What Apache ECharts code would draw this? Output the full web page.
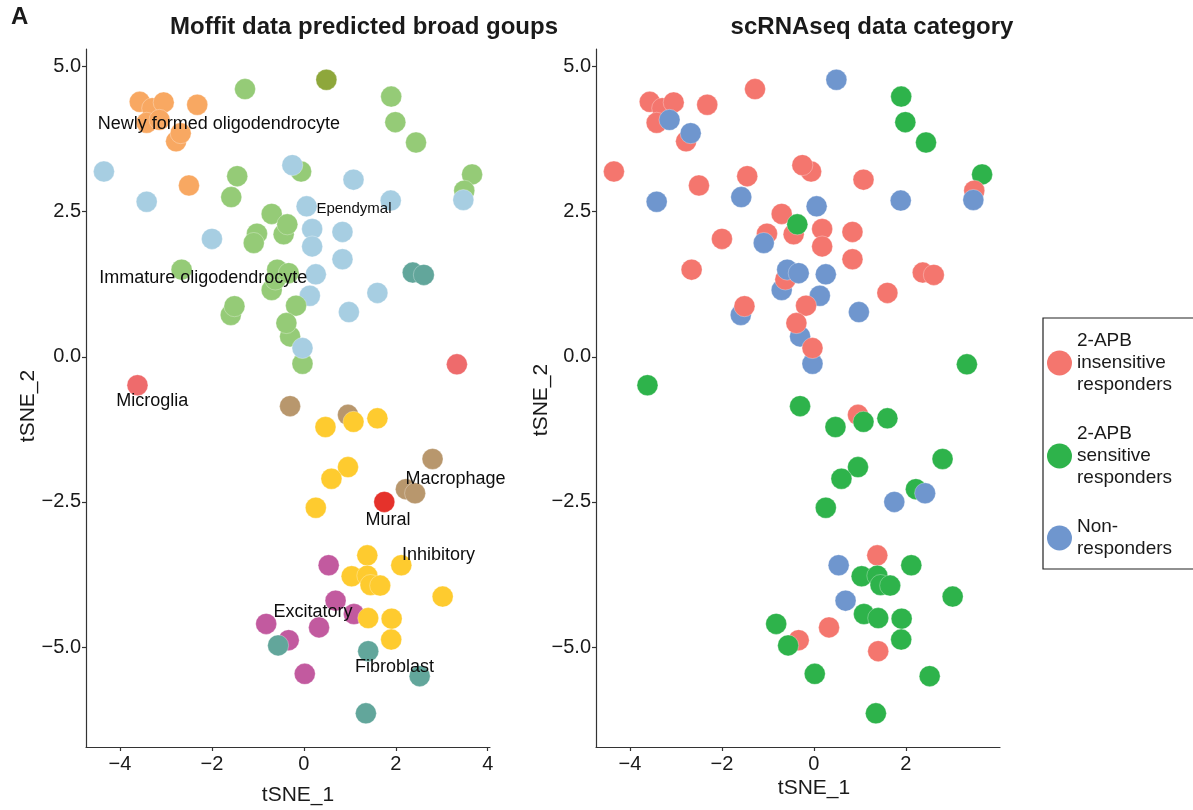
<!DOCTYPE html>
<html>
<head>
<meta charset="utf-8">
<script src="https://cdn.jsdelivr.net/npm/echarts@6/dist/echarts.min.js"></script>
<style>
  html, body { margin: 0; padding: 0; background: #ffffff; }
  #chart { width: 1193px; height: 810px; }
</style>
</head>
<body>
<div id="chart"></div>
<script>
// t-SNE embedding of the cells (one entry per cell, drawing order)
const tsne1 = [
  -3.57, -3.30, -3.05, -3.42, -3.14, -2.78, -2.68, -2.32, -2.50, -1.28,
   0.49,  1.90,  1.99,  2.44, -4.35, -3.42, -1.45, -1.58, -0.06, -0.25,
   1.08,  3.66,  3.49,  3.47,  1.89,  0.06, -0.70, -0.44, -0.36, -1.02,
  -1.09, -2.00,  0.18,  0.18,  0.84,  0.84, -2.66, -0.70, -0.62, -0.58,
  -0.33,  0.26,  0.13,  2.37,  2.61,  1.60,  0.98, -1.59, -1.51, -0.17,
  -0.30, -0.38, -0.03, -0.03,  3.33, -3.62, -0.30,  0.96,  1.08,  0.47,
   1.60,  2.80,  0.96,  0.60,  2.22,  2.42,  1.75,  0.26,  1.38,  0.54,
   2.12,  1.04,  1.38,  1.45,  1.66,  3.02,  0.69,  1.09,  1.40,  1.91,
   1.90, -0.82,  0.33, -0.33, -0.56,  1.40,  0.02,  2.52,  1.35
];
const tsne2 = [
   4.39,  4.28,  4.38,  4.03,  4.08,  3.71,  3.85,  4.34,  2.95,  4.61,
   4.77,  4.48,  4.04,  3.69,  3.19,  2.67,  3.11,  2.75,  3.19,  3.30,
   3.05,  3.14,  2.86,  2.70,  2.69,  2.59,  2.46,  2.11,  2.28,  2.12,
   1.96,  2.03,  2.20,  1.90,  2.15,  1.68,  1.50,  1.15,  1.33,  1.50,
   1.44,  1.42,  1.05,  1.45,  1.41,  1.10,  0.77,  0.72,  0.87,  0.88,
   0.35,  0.58, -0.12,  0.15, -0.13, -0.49, -0.85, -1.00, -1.12, -1.21,
  -1.06, -1.76, -1.90, -2.10, -2.28, -2.35, -2.50, -2.60, -3.42, -3.59,
  -3.59, -3.78, -3.77, -3.93, -3.94, -4.13, -4.20, -4.43, -4.50, -4.51,
  -4.87, -4.60, -4.66, -4.88, -4.97, -5.07, -5.46, -5.50, -6.14
];
// Predicted broad cell group of each cell
const cellGroup = [
  'NFO','NFO','NFO','NFO','NFO','NFO','NFO','NFO','NFO','IO',
  'MOL','IO','IO','IO','EPE','EPE','IO','IO','IO','EPE',
  'EPE','IO','IO','EPE','EPE','EPE','IO','IO','IO','IO',
  'IO','EPE','EPE','EPE','EPE','EPE','IO','IO','IO','IO',
  'IO','EPE','EPE','FIB','FIB','EPE','EPE','IO','IO','IO',
  'IO','IO','IO','EPE','MG','MG','MAC','MAC','INH','INH',
  'INH','MAC','INH','INH','MAC','MAC','MUR','INH','INH','EXC',
  'INH','INH','INH','INH','INH','INH','EXC','EXC','INH','INH',
  'INH','EXC','EXC','EXC','FIB','FIB','EXC','FIB','FIB'
];
// 2-APB response class of each cell
const response = [
  'ins','ins','ins','ins','non','ins','non','ins','ins','ins',
  'non','sen','sen','sen','ins','non','ins','non','ins','ins',
  'ins','sen','ins','non','non','non','ins','ins','sen','ins',
  'non','ins','ins','ins','ins','ins','ins','non','ins','non',
  'non','non','non','ins','ins','ins','non','non','ins','ins',
  'non','ins','non','ins','sen','sen','sen','ins','sen','sen',
  'sen','sen','sen','sen','sen','non','non','sen','ins','non',
  'sen','sen','sen','sen','sen','sen','non','sen','sen','sen',
  'sen','sen','ins','ins','sen','ins','sen','sen','sen'
];

// Cluster annotations placed in embedding space
const labelText = ['Newly formed oligodendrocyte', 'Ependymal', 'Immature oligodendrocyte',
  'Microglia', 'Macrophage', 'Mural', 'Inhibitory', 'Excitatory', 'Fibroblast'];
const labelX = [-1.85, 1.09, -2.19, -3.30, 3.30, 1.83, 2.93, 0.20, 1.97];
const labelY = [4.00, 2.55, 1.36, -0.76, -2.10, -2.81, -3.41, -4.39, -5.34];

// Response classes shown in the legend
const responseKeys = ['ins', 'sen', 'non'];
const responseNames = ['2-APB\ninsensitive\nresponders', '2-APB\nsensitive\nresponders', 'Non-\nresponders'];

// Axis ticks
const xTicksLeft = [-4, -2, 0, 2, 4];
const xTicksRight = [-4, -2, 0, 2];
const yTicks = [-5, -2.5, 0, 2.5, 5];

const cellColors = {
  NFO: '#f8a862', MOL: '#8ea73b', IO: '#95cb77', EPE: '#a7cee2', MG: '#ee6b6c',
  MAC: '#b8976d', MUR: '#e5322b', INH: '#fecb2f', EXC: '#c25a9f', FIB: '#62a69b'
};
const responseColors = { ins: '#f4766e', sen: '#2eb34b', non: '#6f96ce' };

const FONT = "'Liberation Sans', Arial, Helvetica, sans-serif";
const INK = '#1a1a1a';
const AXIS = '#333333';
const X_MIN = -4.74, X_MAX = 4.05, Y_MIN = -6.72, Y_MAX = 5.30;
const POINT_SIZE = 21;

const minus = s => String(s).replace('-', '\u2212');

function xAxisFor(gridIndex, ticks) {
  return {
    type: 'value', gridIndex, min: X_MIN, max: X_MAX,
    axisLine: { onZero: false, lineStyle: { color: AXIS, width: 1.2 } },
    axisTick: { show: true, length: 4, customValues: ticks, lineStyle: { color: AXIS, width: 1.2 } },
    axisLabel: { customValues: ticks, margin: 7, fontSize: 20, color: INK, fontFamily: FONT,
                 formatter: v => minus(v) },
    splitLine: { show: false }
  };
}
function yAxisFor(gridIndex) {
  return {
    type: 'value', gridIndex, min: Y_MIN, max: Y_MAX,
    axisLine: { show: true, onZero: false, lineStyle: { color: AXIS, width: 1.2 } },
    axisTick: { show: true, length: 4, customValues: yTicks, lineStyle: { color: AXIS, width: 1.2 } },
    axisLabel: { customValues: yTicks, margin: 5, fontSize: 20, color: INK, fontFamily: FONT,
                 formatter: v => minus(Number(v).toFixed(1)) },
    splitLine: { show: false }
  };
}

const pointStyle = { opacity: 1, borderColor: 'rgba(255,255,255,0.6)', borderWidth: 0.5 };

const cellData = tsne1.map((x, i) => ({
  value: [x, tsne2[i]],
  itemStyle: Object.assign({ color: cellColors[cellGroup[i]] }, pointStyle)
}));
const responseData = tsne1.map((x, i) => ({
  value: [x, tsne2[i]],
  itemStyle: Object.assign({ color: responseColors[response[i]] }, pointStyle)
}));
const labelData = labelText.map((t, i) => ({
  value: [labelX[i], labelY[i]],
  name: t,
  label: { fontSize: t === 'Ependymal' ? 15 : 18 }
}));

function text(x, y, str, size, opts) {
  return Object.assign({
    type: 'text', x, y, silent: true,
    style: Object.assign({
      text: str, fontSize: size, fontFamily: FONT, fill: INK,
      align: 'center', verticalAlign: 'middle',
      textAlign: 'center', textVerticalAlign: 'middle'
    }, (opts && opts.style) || {})
  }, opts && opts.rotation !== undefined ? { rotation: opts.rotation } : {});
}

const chart = echarts.init(document.getElementById('chart'), null, { renderer: 'canvas' });

chart.setOption({
  backgroundColor: '#ffffff',
  animation: false,
  grid: [
    { left: 86, top: 49, width: 404, height: 698 },
    { left: 596, top: 49, width: 404, height: 698 }
  ],
  xAxis: [xAxisFor(0, xTicksLeft), xAxisFor(1, xTicksRight)],
  yAxis: [yAxisFor(0), yAxisFor(1)],
  legend: {
    orient: 'vertical', left: 1043, top: 318,
    padding: [12, 40, 9, 4], itemGap: 27, itemWidth: 25, itemHeight: 25,
    icon: 'circle', borderColor: '#222222', borderWidth: 1.2,
    selectedMode: false,
    itemStyle: { opacity: 1 },
    textStyle: { fontSize: 19, lineHeight: 22, color: INK, fontFamily: FONT },
    data: responseNames
  },
  series: [
    {
      type: 'scatter', xAxisIndex: 0, yAxisIndex: 0, symbolSize: POINT_SIZE,
      itemStyle: { opacity: 1 }, data: cellData, z: 2
    },
    {
      type: 'scatter', xAxisIndex: 0, yAxisIndex: 0, symbolSize: 0, z: 5,
      data: labelData,
      itemStyle: { opacity: 1 },
      label: { show: true, position: 'inside', formatter: p => p.name, opacity: 1,
               color: '#0d0d0d', fontFamily: FONT, fontSize: 18 },
      emphasis: { disabled: true }
    },
    {
      type: 'scatter', xAxisIndex: 1, yAxisIndex: 1, symbolSize: POINT_SIZE,
      itemStyle: { opacity: 1 }, data: responseData, z: 2
    }
  ].concat(responseKeys.map((k, i) => ({
    // legend entries for the response classes
    name: responseNames[i], type: 'scatter', xAxisIndex: 1, yAxisIndex: 1,
    itemStyle: { color: responseColors[k], opacity: 1 }, data: []
  }))),
  graphic: [
    text(11, 17, 'A', 24, { style: { fontWeight: 'bold', align: 'left', textAlign: 'left' } }),
    text(364, 27, 'Moffit data predicted broad goups', 24, { style: { fontWeight: 'bold' } }),
    text(872, 27, 'scRNAseq data category', 24, { style: { fontWeight: 'bold' } }),
    text(298, 795, 'tSNE_1', 21),
    text(814, 788, 'tSNE_1', 21),
    text(28, 406, 'tSNE_2', 21, { rotation: Math.PI / 2 }),
    text(541, 400, 'tSNE_2', 21, { rotation: Math.PI / 2 })
  ]
});
</script>
</body>
</html>
